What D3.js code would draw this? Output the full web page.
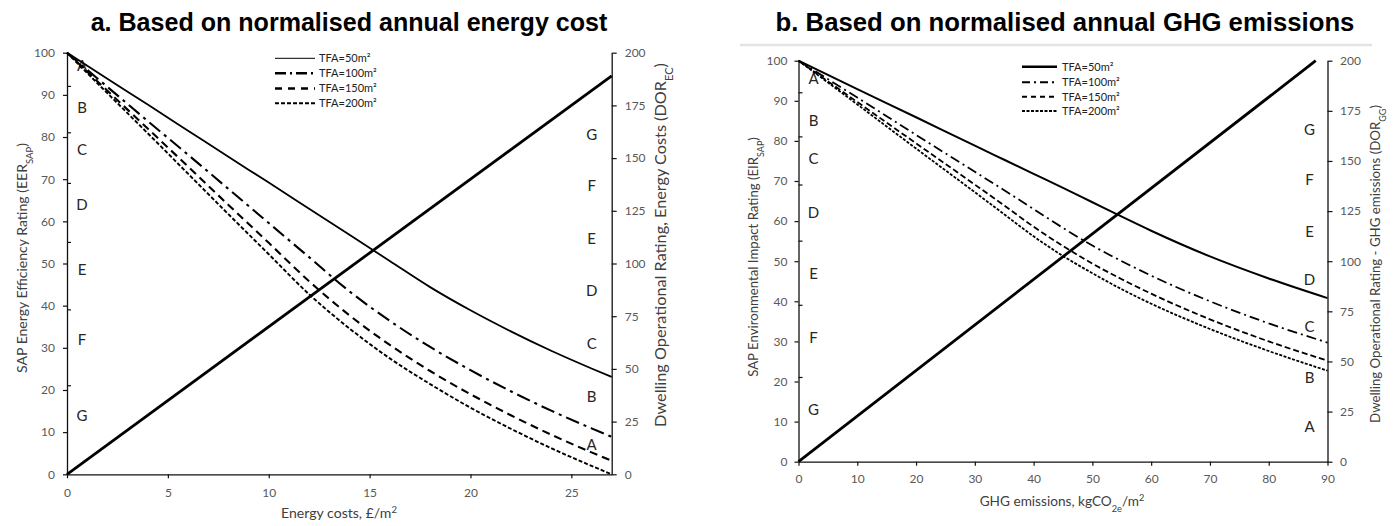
<html>
<head>
<script src="https://cdnjs.cloudflare.com/ajax/libs/d3/7.8.5/d3.min.js"></script>
<style>
  body { margin: 0; background: #fff; }
  text { font-family: Lato, "Open Sans", sans-serif; }
  .title { font-family: "Liberation Sans", Arial, sans-serif; font-weight: bold; }
</style>
</head>
<body>
<script>
// ---- panel a: energy cost ----
var costX  = [0, 2, 4, 6, 8, 10, 12, 14, 16, 18, 20, 22, 24, 26, 27];
var eer50  = [100, 93.8, 87.7, 81.5, 75.3, 69.2, 63.0, 56.8, 50.6, 44.4, 38.9, 33.9, 29.3, 25.1, 23.1];
var eer100 = [100, 91.9, 83.8, 75.8, 67.7, 59.6, 51.5, 43.4, 36.4, 30.2, 24.7, 19.7, 15.1, 10.9, 8.9];
var eer150 = [100, 91.0, 82.0, 73.0, 63.9, 54.9, 45.8, 37.7, 30.7, 24.5, 19.0, 14.0, 9.4, 5.2, 3.2];
var eer200 = [100, 90.4, 80.9, 71.3, 61.7, 52.2, 42.7, 34.6, 27.5, 21.4, 15.8, 10.8, 6.2, 2.0, 0.0];
var dorCostX = [0, 27];
var dorCost  = [0, 189];

// ---- panel b: GHG emissions ----
var ghgX   = [0, 10, 20, 30, 35, 40, 45, 50, 55, 60, 70, 80, 90];
var eir50  = [100, 92.9, 85.9, 78.8, 75.3, 71.8, 68.3, 64.7, 61.1, 57.6, 51.2, 45.7, 40.8];
var eir100 = [100, 90.8, 81.5, 72.3, 67.7, 63.0, 58.3, 53.9, 50.0, 46.4, 40.0, 34.5, 29.7];
var eir150 = [100, 89.7, 79.4, 69.1, 63.9, 58.6, 53.8, 49.4, 45.5, 41.9, 35.5, 30.0, 25.2];
var eir200 = [100, 89.1, 78.1, 67.2, 61.7, 56.2, 51.3, 47.0, 43.0, 39.4, 33.1, 27.6, 22.7];
var dorGhgX = [0, 88];
var dorGhg  = [0, 200];

// bands and labels
var seriesNames = ["TFA=50m\u00b2", "TFA=100m\u00b2", "TFA=150m\u00b2", "TFA=200m\u00b2"];
var bandLetters = ["A", "B", "C", "D", "E", "F", "G"];
var sapBandEdges = [92, 81, 69, 55, 39, 21];
var leftLettersA  = [97, 87, 77, 64, 48.5, 32, 14];
var rightLettersA = [14, 37, 62, 87, 112, 137, 161];
var leftLettersB  = [95.5, 85, 75.5, 62, 47, 31, 13];
var rightLettersB = [17.5, 42, 67.5, 91, 115, 140.5, 165.5];
var yTicks  = [0, 10, 20, 30, 40, 50, 60, 70, 80, 90, 100];
var y2Ticks = [0, 25, 50, 75, 100, 125, 150, 175, 200];
var costTicks = [0, 5, 10, 15, 20, 25];
var ghgTicks  = [0, 10, 20, 30, 40, 50, 60, 70, 80, 90];

var svg = d3.select("body").append("svg").attr("width", 1394).attr("height", 526);

// light rule under title b
svg.append("line").attr("x1", 740).attr("x2", 1372).attr("y1", 45).attr("y2", 45)
   .attr("stroke", "#e4e4e4").attr("stroke-width", 2.5);

function zipXY(xs, ys) { return xs.map(function(v, i) { return [v, ys[i]]; }); }

function fitWidth(t, w) {
  var l = t.node().getComputedTextLength();
  var fs = parseFloat(t.style("font-size"));
  t.style("font-size", (fs * w / l) + "px");
}

function addSubText(t, parts) {
  parts.forEach(function(p) {
    var s = t.append("tspan").text(p[0]);
    if (p[1]) s.attr("baseline-shift", "sub").style("font-size", "0.68em");
    if (p[2]) s.attr("baseline-shift", "super").style("font-size", "0.68em");
  });
}

function drawPanel(p) {
  var x  = d3.scaleLinear().domain(p.xDomain).range([p.left, p.right]);
  var y  = d3.scaleLinear().domain([0, 100]).range([p.bottom, p.top]);
  var y2 = d3.scaleLinear().domain([0, 200]).range([p.bottom, p.top]);
  var g = svg.append("g");

  // band letters
  g.selectAll(".ll").data(bandLetters).enter().append("text")
    .attr("x", p.left + 15).attr("y", function(d, i) { return y(p.leftLetters[i]); })
    .attr("dy", "0.36em").attr("text-anchor", "middle")
    .style("font-size", "15px").attr("fill", "#262626").text(function(d) { return d; });
  g.selectAll(".rl").data(bandLetters).enter().append("text")
    .attr("x", p.right - p.rightLetterOff).attr("y", function(d, i) { return y2(p.rightLetters[i]); })
    .attr("dy", "0.36em").attr("text-anchor", "middle")
    .style("font-size", "15px").attr("fill", "#262626").text(function(d) { return d; });

  // axes
  var gx = g.append("g").attr("transform", "translate(0," + p.bottom + ")")
    .call(d3.axisBottom(x).tickValues(p.xTicks).tickSize(4).tickSizeOuter(0).tickPadding(p.xPad));
  var gy = g.append("g").attr("transform", "translate(" + p.left + ",0)")
    .call(d3.axisLeft(y).tickValues(yTicks).tickSize(4).tickSizeOuter(0).tickPadding(p.yPad));
  var gy2 = g.append("g").attr("transform", "translate(" + p.right + ",0)")
    .call(d3.axisRight(y2).tickValues(y2Ticks).tickSize(5).tickSizeOuter(0).tickPadding(p.y2Pad));
  [gx, gy, gy2].forEach(function(a) {
    a.select(".domain").attr("stroke", "#111").attr("stroke-width", 1.3);
    a.selectAll(".tick line").attr("stroke", "#111").attr("stroke-width", 1.2);
    a.selectAll(".tick text").attr("fill", "#595959").style("font-size", "12px")
      .style("font-family", "Lato, sans-serif");
  });

  // band edge marks inside left axis
  g.selectAll(".be").data(sapBandEdges).enter().append("line")
    .attr("x1", p.left).attr("x2", p.left + 4)
    .attr("y1", function(d) { return y(d); }).attr("y2", function(d) { return y(d); })
    .attr("stroke", "#111").attr("stroke-width", 1.2);

  // curves
  var line = d3.line().x(function(d) { return x(d[0]); }).y(function(d) { return y(d[1]); })
    .curve(d3.curveMonotoneX);
  p.series.forEach(function(s, i) {
    g.append("path").datum(zipXY(p.xs, s)).attr("d", line)
      .attr("fill", "none").attr("stroke", "#000")
      .attr("stroke-width", p.widths[i]).attr("stroke-dasharray", p.dashes[i] || null);
  });
  var line2 = d3.line().x(function(d) { return x(d[0]); }).y(function(d) { return y2(d[1]); });
  g.append("path").datum(zipXY(p.dorX, p.dor)).attr("d", line2)
    .attr("fill", "none").attr("stroke", "#000").attr("stroke-width", 2.8);

  // legend
  seriesNames.forEach(function(n, i) {
    var ly = p.legY[i];
    g.append("line").attr("x1", p.legX).attr("x2", p.legX + p.legLen).attr("y1", ly).attr("y2", ly)
      .attr("stroke", "#000").attr("stroke-width", p.legWidths[i])
      .attr("stroke-dasharray", p.legDashes[i] || null);
    g.append("text").attr("x", p.legX + p.legLen + p.legGap).attr("y", ly).attr("dy", "0.36em")
      .style("font-size", "11px").attr("fill", "#222").text(n);
  });

  // titles
  var t = g.append("text").attr("class", "title").attr("x", p.titleX).attr("y", 31)
    .attr("text-anchor", "middle").style("font-size", "22px").attr("fill", "#000").text(p.title);
  fitWidth(t, p.titleW);

  var xt = g.append("text").attr("x", p.xTitle[0]).attr("y", p.xTitle[1]).attr("dy", "0.36em")
    .attr("text-anchor", "middle").style("font-size", "13px").attr("fill", "#404040");
  addSubText(xt, p.xTitleParts);
  fitWidth(xt, p.xTitle[2]);

  var lt = g.append("text").attr("transform", "translate(" + p.yTitle[0] + "," + p.yTitle[1] + ") rotate(-90)")
    .attr("dy", "0.36em").attr("text-anchor", "middle").style("font-size", "13px").attr("fill", "#404040");
  addSubText(lt, p.yTitleParts);
  fitWidth(lt, p.yTitle[2]);

  var rt = g.append("text").attr("transform", "translate(" + p.y2Title[0] + "," + p.y2Title[1] + ") rotate(-90)")
    .attr("dy", "0.36em").attr("text-anchor", "middle").style("font-size", "13px").attr("fill", "#404040");
  addSubText(rt, p.y2TitleParts);
  fitWidth(rt, p.y2Title[2]);
}

drawPanel({
  xDomain: [0, 27], left: 67, right: 611.7, top: 52.7, bottom: 474.3,
  xTicks: costTicks, xPad: 10, yPad: 8, y2Pad: 8,
  leftLetters: leftLettersA, rightLetters: rightLettersA, rightLetterOff: 20,
  xs: costX, series: [eer50, eer100, eer150, eer200],
  widths: [1.8, 2.1, 2.1, 1.9], dashes: [null, "14,5,3,5", "8,5", "4,2"],
  dorX: dorCostX, dor: dorCost,
  legX: 275, legLen: 40, legGap: 4, legY: [58.3, 73.3, 88.5, 103.3],
  legWidths: [1, 2.6, 2.6, 2], legDashes: [null, "11,4,2,4", "7,6", "4,2"],
  title: "a. Based on normalised annual energy cost", titleX: 349, titleW: 517,
  xTitle: [339, 513, 116], xTitleParts: [["Energy costs, \u00a3/m"], ["2", false, true]],
  yTitle: [22, 258, 230], yTitleParts: [["SAP Energy Efficiency Rating (EER"], ["SAP", true], [")"]],
  y2Title: [660, 245, 364], y2TitleParts: [["Dwelling Operational Rating, Energy Costs (DOR"], ["EC", true], [")"]]
});

drawPanel({
  xDomain: [0, 90], left: 798.5, right: 1327.5, top: 60.7, bottom: 461.7,
  xTicks: ghgTicks, xPad: 9, yPad: 7, y2Pad: 7.5,
  leftLetters: leftLettersB, rightLetters: rightLettersB, rightLetterOff: 18,
  xs: ghgX, series: [eir50, eir100, eir150, eir200],
  widths: [2, 1.8, 1.8, 1.8], dashes: [null, "10,4,2,4", "6,3", "3,1.5"],
  dorX: dorGhgX, dor: dorGhg,
  legX: 1022, legLen: 35, legGap: 5, legY: [66.7, 82.2, 96.7, 111],
  legWidths: [2.4, 2, 2, 1.8], legDashes: [null, "8,4,2,4", "5,4", "3,1.5"],
  title: "b. Based on normalised annual GHG emissions", titleX: 1065, titleW: 579,
  xTitle: [1062, 501, 165], xTitleParts: [["GHG emissions, kgCO"], ["2e", true], ["/m"], ["2", false, true]],
  yTitle: [753, 257, 240], yTitleParts: [["SAP Environmental Impact Rating (EIR"], ["SAP", true], [")"]],
  y2Title: [1375, 264, 318], y2TitleParts: [["Dwelling Operational Rating - GHG emissions (DOR"], ["GG", true], [")"]]
});
</script>
</body>
</html>
